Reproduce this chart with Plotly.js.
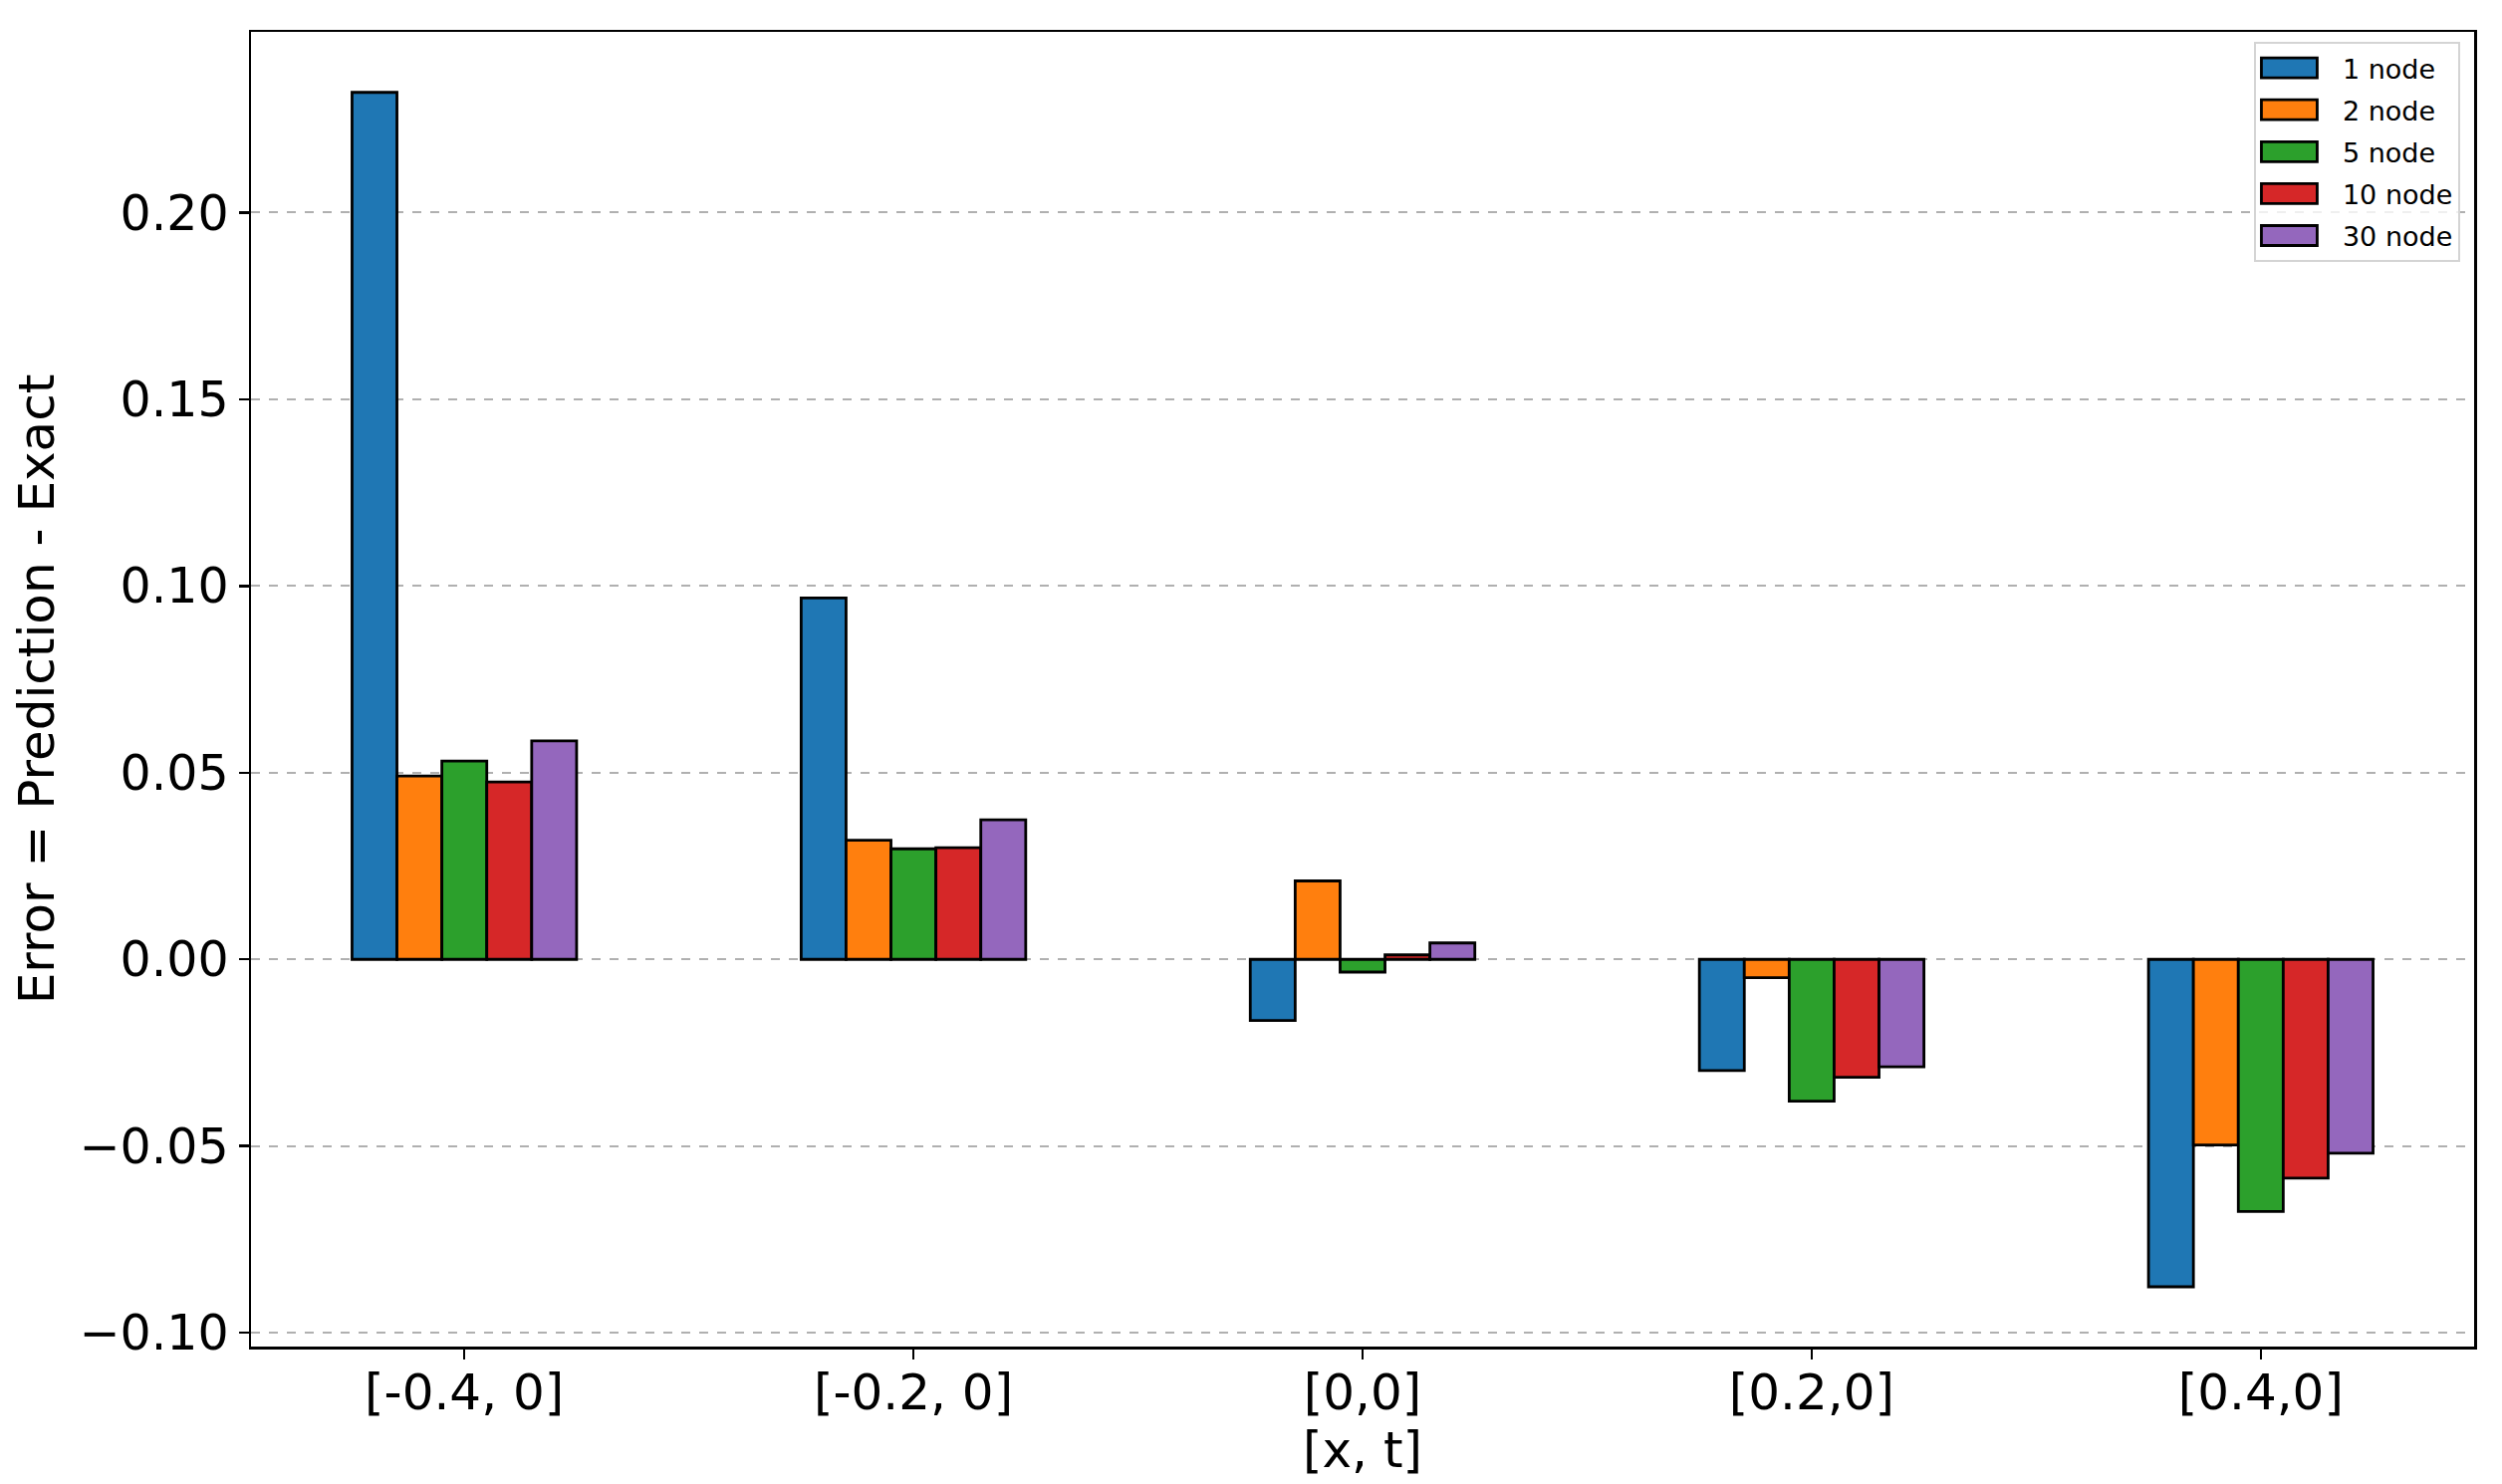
<!DOCTYPE html>
<html>
<head>
<meta charset="utf-8">
<script src="https://cdn.plot.ly/plotly-3.0.1.min.js"></script>
<style>
  html, body { margin: 0; padding: 0; background: #ffffff; }
  #chart { width: 2512px; height: 1490px; }
</style>
</head>
<body>
<div id="chart"></div>
<script>
// points [x, t] where the error was measured
var points = ['[-0.4, 0]', '[-0.2, 0]', '[0,0]', '[0.2,0]', '[0.4,0]'];

// error = prediction - exact, one array per network size
var node1 = [0.2322, 0.0968, -0.0164, -0.0298, -0.0877];
var node2 = [0.0491, 0.0319, 0.0210, -0.0049, -0.0497];
var node5 = [0.0531, 0.0296, -0.0034, -0.0380, -0.0675];
var node10 = [0.0475, 0.0299, 0.0012, -0.0316, -0.0586];
var node30 = [0.0585, 0.0374, 0.0044, -0.0288, -0.0519];

var names = ['1 node', '2 node', '5 node', '10 node', '30 node'];
var colors = ['#1f77b4', '#ff7f0e', '#2ca02c', '#d62728', '#9467bd'];
var series = [node1, node2, node5, node10, node30];

var data = [];
for (var i = 0; i < series.length; i++) {
  data.push({
    x: points,
    y: series[i],
    type: 'bar',
    name: names[i],
    legendgroup: 'g' + i,
    marker: { color: colors[i], line: { color: '#000000', width: 2.8 } }
  });
}

var font = { family: 'DejaVu Sans', size: 50, color: '#000000' };
var yfont = { family: 'DejaVu Sans', size: 49, color: '#000000' };

var layout = {
  width: 2512,
  height: 1490,
  margin: { l: 252, r: 28, t: 32, b: 138, pad: 0 },
  paper_bgcolor: '#ffffff',
  plot_bgcolor: '#ffffff',
  font: font,
  barmode: 'group',
  bargap: 0.5,
  bargroupgap: 0,
  showlegend: true,
  legend: {
    x: 0.9937, xanchor: 'right',
    y: 0.9924, yanchor: 'top',
    bgcolor: 'rgba(255,255,255,0.8)',
    bordercolor: '#d4d4d4',
    borderwidth: 2,
    font: { family: 'DejaVu Sans', size: 27, color: '#000000' },
    traceorder: 'grouped',
    tracegroupgap: 4,
    itemwidth: 77
  },
  xaxis: {
    type: 'category',
    range: [-0.475, 4.475],
    showline: true, mirror: true, linecolor: '#000000', linewidth: 2.5,
    ticks: 'outside', ticklen: 10, tickwidth: 2.5, tickcolor: '#000000',
    ticklabelstandoff: -10,
    showgrid: false, zeroline: false,
    tickfont: font,
    title: { text: '[x, t]', font: font, standoff: 6 }
  },
  yaxis: {
    range: [-0.1037, 0.2484],
    dtick: 0.05,
    tickformat: '.2f',
    showline: true, mirror: true, linecolor: '#000000', linewidth: 2.5,
    ticks: 'outside', ticklen: 10, tickwidth: 2.5, tickcolor: '#000000',
    showgrid: true, gridcolor: '#b0b0b0', gridwidth: 2, griddash: 'dash',
    zeroline: false,
    tickfont: yfont,
    title: { text: 'Error = Prediction - Exact', font: font, standoff: 9 }
  }
};

Plotly.newPlot('chart', data, layout, { staticPlot: true, displayModeBar: false }).then(function () {
  // matplotlib draws wide patches in the legend, so stretch the bar icons
  var icons = document.querySelectorAll('.legend .legendpoints path');
  icons.forEach(function (p) {
    p.setAttribute('d', 'M-38,-10H18V10H-38Z');
    p.style.strokeWidth = '2.8px';
    p.style.stroke = '#000000';
  });
});
</script>
</body>
</html>
